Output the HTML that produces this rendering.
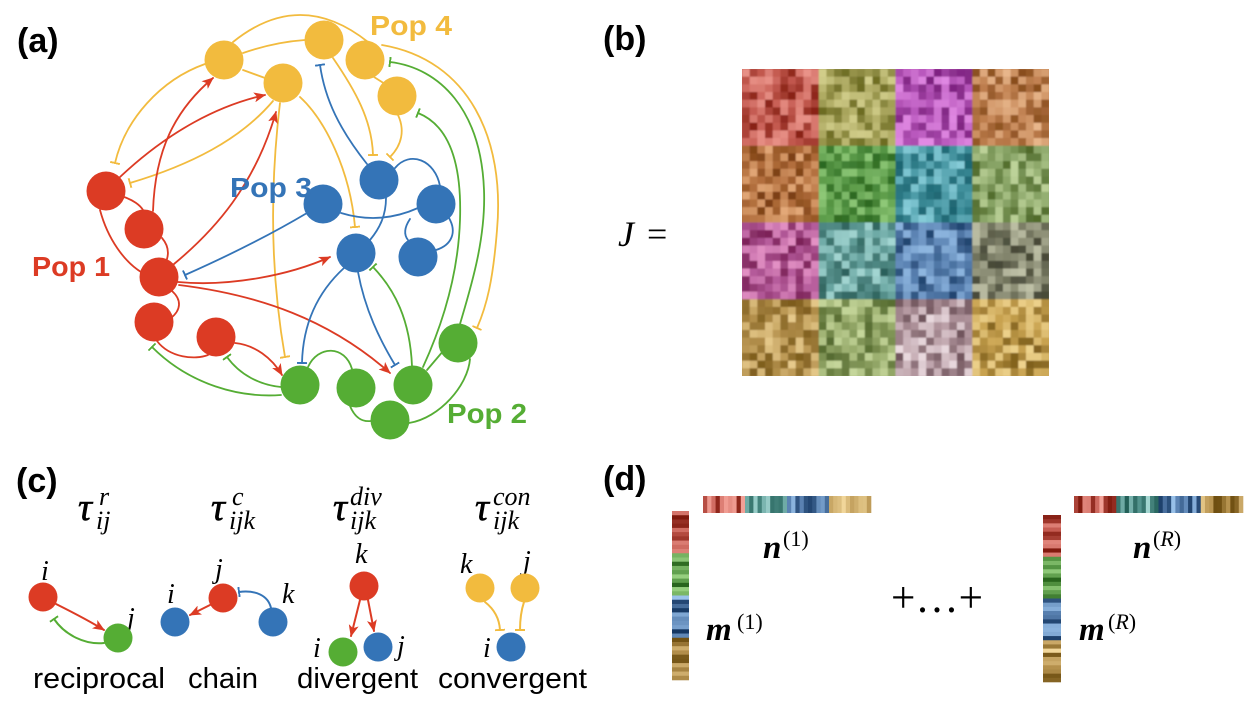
<!DOCTYPE html>
<html><head><meta charset="utf-8">
<style>
html,body{margin:0;padding:0;background:#fff;}
svg{display:block}
</style></head>
<body>
<svg id="sv" width="1256" height="712" viewBox="0 0 1256 712" xmlns="http://www.w3.org/2000/svg">
<defs>
 <marker id="aR" viewBox="0 0 12 10" refX="11" refY="5" markerWidth="12" markerHeight="10" markerUnits="userSpaceOnUse" orient="auto"><path d="M0,0 L12,5 L0,10 L3,5 z" fill="#dc3b24"/></marker>
 <marker id="tY" viewBox="0 0 2 10" refX="1" refY="5" markerWidth="2" markerHeight="10" markerUnits="userSpaceOnUse" orient="auto"><rect x="0" y="0" width="2" height="10" fill="#f2bb3e"/></marker>
 <marker id="tG" viewBox="0 0 2 10" refX="1" refY="5" markerWidth="2" markerHeight="10" markerUnits="userSpaceOnUse" orient="auto"><rect x="0" y="0" width="2" height="10" fill="#55ad34"/></marker>
 <marker id="tB" viewBox="0 0 2 10" refX="1" refY="5" markerWidth="2" markerHeight="10" markerUnits="userSpaceOnUse" orient="auto"><rect x="0" y="0" width="2" height="10" fill="#3474b7"/></marker>
 <filter id="bl" x="0" y="0" width="1" height="1"><feGaussianBlur stdDeviation="0.9"/></filter>
 <clipPath id="mc"><rect x="742" y="69" width="307" height="307"/></clipPath>
</defs>
<rect width="1256" height="712" fill="#fff"/>

<!-- Panel labels -->
<g font-family="Liberation Sans, sans-serif" font-weight="bold" font-size="34" fill="#000">
 <text x="17" y="52">(a)</text>
 <text x="603" y="50">(b)</text>
 <text x="16" y="492">(c)</text>
 <text x="603" y="490">(d)</text>
</g>

<!-- ============ Panel (a) edges ============ -->
<g fill="none" stroke-width="1.8" stroke-linecap="round">
 <g stroke="#f2bb3e">
  <path d="M233,42 Q300,-12 368,42"/>
  <path d="M243,53 Q275,42 305,40"/>
  <path d="M243,70 L265,78"/>
  <path d="M374,77 L385,84"/>
  <path d="M205,64 C160,80 125,120 115,163" marker-end="url(#tY)"/>
  <path d="M273,101 C240,140 190,165 130,183" marker-end="url(#tY)"/>
  <path d="M280,103 C272,170 268,260 285,357" marker-end="url(#tY)"/>
  <path d="M300,97 C325,120 350,170 355,227" marker-end="url(#tY)"/>
  <path d="M333,58 C355,90 372,120 373,155" marker-end="url(#tY)"/>
  <path d="M398,115 C405,130 402,145 390,157" marker-end="url(#tY)"/>
  <path d="M382,45 C470,60 505,140 497,230 C493,280 487,305 477,328" marker-end="url(#tY)"/>
 </g>
 <g stroke="#55ad34">
  <path d="M460,324 C470,290 486,240 484,190 C481,110 440,68 390,62" marker-end="url(#tG)"/>
  <path d="M423,367 C440,330 458,280 460,220 C462,160 448,125 418,113" marker-end="url(#tG)"/>
  <path d="M281,387 C260,385 240,375 227,357" marker-end="url(#tG)"/>
  <path d="M281,395 C240,398 190,385 152,347" marker-end="url(#tG)"/>
  <path d="M412,366 C410,320 395,290 373,267" marker-end="url(#tG)"/>
  <path d="M308,367 C318,345 345,345 352,369"/>
  <path d="M350,406 C355,418 362,422 371,421"/>
  <path d="M409,423 C440,418 468,385 470,359"/>
  <path d="M427,370 L444,350"/>
 </g>
 <g stroke="#dc3b24">
  <path d="M120,177 C170,130 220,105 265,95" marker-end="url(#aR)"/>
  <path d="M153,211 C155,150 175,110 213,78" marker-end="url(#aR)"/>
  <path d="M174,264 C215,230 255,185 276,112" marker-end="url(#aR)"/>
  <path d="M178,282 C230,287 290,275 330,257" marker-end="url(#aR)"/>
  <path d="M179,285 C260,295 330,320 390,373" marker-end="url(#aR)"/>
  <path d="M235,343 C255,345 272,358 282,375" marker-end="url(#aR)"/>
  <path d="M124,197 C133,200 140,205 143,210"/>
  <path d="M100,210 C108,240 125,262 141,272"/>
  <path d="M162,238 C168,245 169,252 167,259"/>
  <path d="M172,291 C182,300 181,310 171,318"/>
  <path d="M157,341 C170,358 195,360 208,355"/>
 </g>
 <g stroke="#3474b7">
  <path d="M367,164 C340,130 325,100 320,65" marker-end="url(#tB)"/>
  <path d="M307,213 C270,235 230,255 185,275" marker-end="url(#tB)"/>
  <path d="M344,268 C320,290 303,320 302,363" marker-end="url(#tB)"/>
  <path d="M358,272 C365,310 380,340 395,365" marker-end="url(#tB)"/>
  <path d="M395,168 C410,150 435,160 440,186"/>
  <path d="M341,213 Q380,225 418,208"/>
  <path d="M386,198 C386,215 380,228 370,240"/>
  <path d="M410,219 C404,228 404,235 408,240"/>
  <path d="M449,218 C457,232 452,245 436,250"/>
 </g>
</g>

<!-- Panel (a) nodes -->
<g fill="#f2bb3e">
 <circle cx="224" cy="60" r="19.5"/><circle cx="324" cy="40" r="19.5"/><circle cx="365" cy="60" r="19.5"/>
 <circle cx="283" cy="83" r="19.5"/><circle cx="397" cy="96" r="19.5"/>
</g>
<g fill="#dc3b24">
 <circle cx="106" cy="191" r="19.5"/><circle cx="144" cy="229" r="19.5"/><circle cx="159" cy="277" r="19.5"/>
 <circle cx="154" cy="322" r="19.5"/><circle cx="216" cy="337" r="19.5"/>
</g>
<g fill="#3474b7">
 <circle cx="379" cy="180" r="19.5"/><circle cx="323" cy="204" r="19.5"/><circle cx="436" cy="204" r="19.5"/>
 <circle cx="356" cy="253" r="19.5"/><circle cx="418" cy="257" r="19.5"/>
</g>
<g fill="#55ad34">
 <circle cx="300" cy="385" r="19.5"/><circle cx="356" cy="388" r="19.5"/><circle cx="413" cy="385" r="19.5"/>
 <circle cx="390" cy="420" r="19.5"/><circle cx="458" cy="343" r="19.5"/>
</g>

<g font-family="Liberation Sans, sans-serif" font-weight="bold" font-size="28">
 <text x="370" y="35" fill="#f2bb3e" textLength="82" lengthAdjust="spacingAndGlyphs">Pop 4</text>
 <text x="230" y="197" fill="#3474b7" textLength="82" lengthAdjust="spacingAndGlyphs">Pop 3</text>
 <text x="32" y="276" fill="#dc3b24" textLength="78" lengthAdjust="spacingAndGlyphs">Pop 1</text>
 <text x="447" y="423" fill="#55ad34" textLength="80" lengthAdjust="spacingAndGlyphs">Pop 2</text>
</g>

<!-- ============ Panel (b) ============ -->
<text x="618" y="246" font-family="Liberation Serif, serif" font-style="italic" font-size="36">J</text>
<text x="647" y="246" font-family="Liberation Serif, serif" font-size="36">=</text>
<g clip-path="url(#mc)">
 <g id="matbase"></g>
 <g id="mat" filter="url(#bl)"></g>
</g>

<!-- ============ Panel (c) ============ -->
<g font-family="Liberation Serif, serif" font-style="italic" fill="#000">
 <text x="78" y="520" font-size="39" stroke="#000" stroke-width="0.6">τ</text><text x="99" y="505" font-size="26">r</text><text x="96" y="529" font-size="26">ij</text>
 <text x="211" y="520" font-size="39" stroke="#000" stroke-width="0.6">τ</text><text x="232" y="505" font-size="26">c</text><text x="229" y="529" font-size="26">ijk</text>
 <text x="333" y="520" font-size="39" stroke="#000" stroke-width="0.6">τ</text><text x="350" y="505" font-size="26">div</text><text x="350" y="529" font-size="26">ijk</text>
 <text x="475" y="520" font-size="39" stroke="#000" stroke-width="0.6">τ</text><text x="493" y="505" font-size="26">con</text><text x="493" y="529" font-size="26">ijk</text>

 <g font-size="28">
  <text x="41" y="580">i</text><text x="127" y="627">j</text>
  <text x="167" y="603">i</text><text x="215" y="578">j</text><text x="282" y="603">k</text>
  <text x="355" y="563">k</text><text x="313" y="657">i</text><text x="397" y="655">j</text>
  <text x="460" y="573">k</text><text x="523" y="570">j</text><text x="483" y="657">i</text>
 </g>
</g>
<g fill="none" stroke-width="2" stroke-linecap="round">
 <path d="M56,604 C72,612 88,620 104,630" stroke="#dc3b24" marker-end="url(#aR)"/>
 <path d="M104,643 C85,645 65,635 54,619" stroke="#55ad34" marker-end="url(#tG)"/>
 <path d="M210,605 L190,615" stroke="#dc3b24" marker-end="url(#aR)"/>
 <path d="M271,608 C268,595 255,590 239,592" stroke="#3474b7" marker-end="url(#tB)"/>
 <path d="M360,600 L351,636" stroke="#dc3b24" marker-end="url(#aR)"/>
 <path d="M368,600 L374,631" stroke="#dc3b24" marker-end="url(#aR)"/>
 <path d="M485,602 Q499,613 500,630" stroke="#f2bb3e" marker-end="url(#tY)"/>
 <path d="M524,602 Q520,614 520,630" stroke="#f2bb3e" marker-end="url(#tY)"/>
</g>
<circle cx="43" cy="597" r="14.5" fill="#dc3b24"/>
<circle cx="118" cy="638" r="14.5" fill="#55ad34"/>
<circle cx="175" cy="622" r="14.5" fill="#3474b7"/>
<circle cx="223" cy="598" r="14.5" fill="#dc3b24"/>
<circle cx="273" cy="622" r="14.5" fill="#3474b7"/>
<circle cx="364" cy="586" r="14.5" fill="#dc3b24"/>
<circle cx="343" cy="652" r="14.5" fill="#55ad34"/>
<circle cx="378" cy="647" r="14.5" fill="#3474b7"/>
<circle cx="480" cy="588" r="14.5" fill="#f2bb3e"/>
<circle cx="525" cy="588" r="14.5" fill="#f2bb3e"/>
<circle cx="511" cy="647" r="14.5" fill="#3474b7"/>

<g font-family="Liberation Sans, sans-serif" font-size="29" fill="#000">
 <text x="33" y="688" textLength="132" lengthAdjust="spacingAndGlyphs">reciprocal</text>
 <text x="188" y="688" textLength="70" lengthAdjust="spacingAndGlyphs">chain</text>
 <text x="297" y="688" textLength="121" lengthAdjust="spacingAndGlyphs">divergent</text>
 <text x="438" y="688" textLength="149" lengthAdjust="spacingAndGlyphs">convergent</text>
</g>

<!-- ============ Panel (d) ============ -->
<g id="barbase">
 <rect x="672" y="511" width="17" height="42" fill="#b8483e"/>
 <rect x="672" y="553" width="17" height="42" fill="#5a9a48"/>
 <rect x="672" y="595" width="17" height="43" fill="#5a80b0"/>
 <rect x="672" y="638" width="17" height="42" fill="#a88a48"/>
 <rect x="703" y="496" width="42" height="17" fill="#c05a52"/>
 <rect x="745" y="496" width="42" height="17" fill="#4a8a84"/>
 <rect x="787" y="496" width="42" height="17" fill="#5a80b0"/>
 <rect x="829" y="496" width="42" height="17" fill="#b89850"/>
 <rect x="1043" y="515" width="18" height="42" fill="#c05a52"/>
 <rect x="1043" y="557" width="18" height="42" fill="#6aa658"/>
 <rect x="1043" y="599" width="18" height="42" fill="#5a80b0"/>
 <rect x="1043" y="641" width="18" height="41" fill="#a88a48"/>
 <rect x="1074" y="496" width="42" height="17" fill="#b8483e"/>
 <rect x="1116" y="496" width="42" height="17" fill="#4a8a84"/>
 <rect x="1158" y="496" width="43" height="17" fill="#4a70a0"/>
 <rect x="1201" y="496" width="42" height="17" fill="#c8a458"/>
</g>
<g id="bars"></g>

<g font-family="Liberation Serif, serif" fill="#000">
 <text x="763" y="558" font-size="33" font-weight="bold" font-style="italic">n</text>
 <text x="783" y="546" font-size="22">(1)</text>
 <text x="706" y="640" font-size="33" font-weight="bold" font-style="italic">m</text>
 <text x="737" y="629" font-size="22">(1)</text>
 <text x="1133" y="558" font-size="33" font-weight="bold" font-style="italic">n</text>
 <text x="1153" y="546" font-size="22">(<tspan font-style="italic">R</tspan>)</text>
 <text x="1079" y="640" font-size="33" font-weight="bold" font-style="italic">m</text>
 <text x="1108" y="629" font-size="22">(<tspan font-style="italic">R</tspan>)</text>
 <text x="891" y="612" font-size="44" textLength="92" lengthAdjust="spacingAndGlyphs">+…+</text>
</g>
</svg>

<script>
(function(){
 var NS="http://www.w3.org/2000/svg";
 function mk(seed){var s=seed>>>0;return function(){s=(s+0x6D2B79F5)>>>0;var t=s;t=Math.imul(t^(t>>>15),t|1);t^=t+Math.imul(t^(t>>>7),t|61);return((t^(t>>>14))>>>0)/4294967296;};}
 function hx(h){return [parseInt(h.slice(1,3),16),parseInt(h.slice(3,5),16),parseInt(h.slice(5,7),16)];}
 function mix(p,t){var a=hx(p[0]),b=hx(p[1]),c=hx(p[2]),u,x,y;if(t<0.5){u=t*2;x=a;y=b;}else{u=(t-0.5)*2;x=b;y=c;}
  return 'rgb('+[0,1,2].map(function(i){return Math.round(x[i]+(y[i]-x[i])*u);}).join(',')+')';}
 function rect(g,x,y,w,h,f){var r=document.createElementNS(NS,'rect');r.setAttribute('x',x);r.setAttribute('y',y);r.setAttribute('width',w);r.setAttribute('height',h);r.setAttribute('fill',f);g.appendChild(r);}
 var P={
  red:['#7a1408','#c45a50','#f2a096'], olive:['#5e5e14','#a6a25a','#dcd896'], mag:['#6e1470','#b858bc','#ec96ee'], tan1:['#7a4010','#c08050','#f2c49a'],
  brown:['#6e3408','#b06c3a','#f0b888'], green:['#1e5a14','#5a9a48','#a0d888'], teal:['#145a66','#3e8e9a','#98dce8'], olg:['#445e1e','#84a062','#cce0a8'],
  pink:['#6e1448','#b45a9a','#f0a0d0'], tl:['#1c4e48','#6aa6a2','#b4e4e0'], blue:['#12345e','#5a82b2','#9cc4ec'], grey:['#363828','#84866e','#d0d2b8'],
  tan:['#6e4e10','#b89450','#f6dca0'], ol2:['#445a20','#96aa6a','#d2e2a8'], pg:['#5e424a','#b89ca4','#f8ecf0'], gold:['#6e5010','#c8a250','#fae2a0'],
  teal2:['#1e5a52','#5a9a94','#b0e0dc']
 };
 var M=[['red','olive','mag','tan1'],['brown','green','teal','olg'],['pink','tl','blue','grey'],['tan','ol2','pg','gold']];
 var g=document.getElementById('mat'), r=mk(12345), x0=742,y0=69,cs=307/40;
 for(var bi=0;bi<4;bi++)for(var bj=0;bj<4;bj++){var p=P[M[bi][bj]];
  for(var ci=0;ci<10;ci++)for(var cj=0;cj<10;cj++){
   rect(g,(x0+(bj*10+cj)*cs).toFixed(2),(y0+(bi*10+ci)*cs).toFixed(2),(cs+0.4).toFixed(2),(cs+0.4).toFixed(2),mix(p,0.1+0.8*r()));
  }}
 var gb=document.getElementById('bars'), rb=mk(777);
 function bar(x,y,w,h,vert,groups){var n=40,len=vert?h:w,st=len/n;
  for(var k=0;k<n;k++){var p=P[groups[Math.floor(k/10)]],t=rb();
   if(vert)rect(gb,x,(y+k*st).toFixed(2),w,(st+0.3).toFixed(2),mix(p,t));
   else rect(gb,(x+k*st).toFixed(2),y,(st+0.3).toFixed(2),h,mix(p,t));}}
 bar(672,511,17,169,true,['red','green','blue','tan']);
 bar(703,496,168,17,false,['red','teal2','blue','tan']);
 bar(1043,515,18,167,true,['red','green','blue','tan']);
 bar(1074,496,169,17,false,['red','teal2','blue','tan']);
})();
</script>
<script>
(function(){var NS="http://www.w3.org/2000/svg",g=document.getElementById('matbase');
 var c=[['#c45a50','#a6a25a','#b858bc','#c08050'],['#b06c3a','#5a9a48','#3e8e9a','#84a062'],['#b45a9a','#6aa6a2','#5a82b2','#84866e'],['#b89450','#96aa6a','#b89ca4','#c8a250']];
 for(var i=0;i<4;i++)for(var j=0;j<4;j++){var r=document.createElementNS(NS,'rect');r.setAttribute('x',742+j*76.75);r.setAttribute('y',69+i*76.75);r.setAttribute('width',77);r.setAttribute('height',77);r.setAttribute('fill',c[i][j]);g.appendChild(r);}
})();
</script>
</body></html>
